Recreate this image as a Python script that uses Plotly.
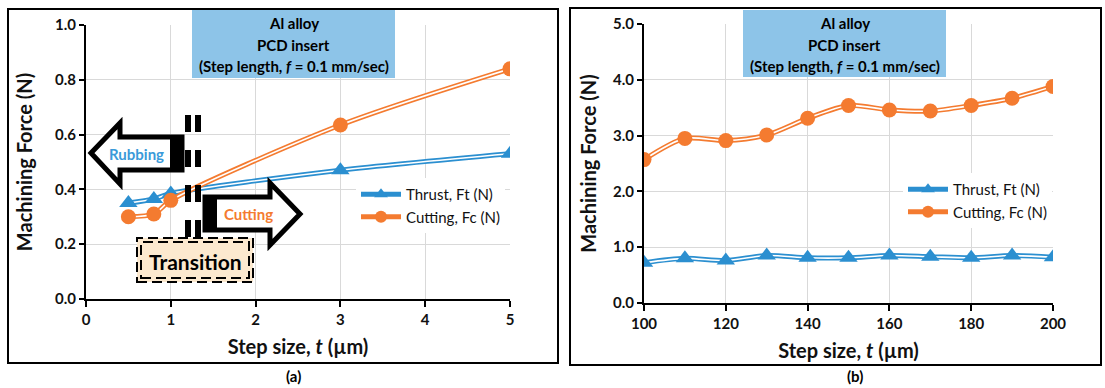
import plotly.graph_objects as go

# ---------------- data ----------------
step_a = [0.5, 0.8, 1.0, 3.0, 5.0]
thrust_a = [0.35, 0.365, 0.385, 0.47, 0.53]
cutting_a = [0.30, 0.31, 0.36, 0.635, 0.84]

step_b = [100, 110, 120, 130, 140, 150, 160, 170, 180, 190, 200]
thrust_b = [0.72, 0.80, 0.76, 0.85, 0.81, 0.81, 0.85, 0.83, 0.81, 0.85, 0.82]
cutting_b = [2.57, 2.95, 2.91, 3.01, 3.31, 3.54, 3.46, 3.44, 3.54, 3.67, 3.88]

W, H = 1105, 388
BLUE = "#2B8FD0"
ORANGE = "#F47B30"
FONT = "Lato"


def px(x):
    return x / W


def py(y):
    return 1 - y / H


fig = go.Figure()


def add_series(x, y, color, symbol, name, xa, ya, legend):
    fig.add_trace(go.Scatter(x=x, y=y, mode="lines", line=dict(color=color, width=5, shape="spline", smoothing=0.8),
                             name=name, xaxis=xa, yaxis=ya, legend=legend, showlegend=False))
    fig.add_trace(go.Scatter(x=x, y=y, mode="lines", line=dict(color="white", width=1.6, shape="spline", smoothing=0.8),
                             xaxis=xa, yaxis=ya, showlegend=False, hoverinfo="skip"))
    fig.add_trace(go.Scatter(x=x, y=y, mode="markers",
                             marker=dict(symbol=symbol, size=15 if symbol == "circle" else 16, color=color),
                             name=name, xaxis=xa, yaxis=ya, legend=legend, showlegend=False))
    # legend proxy
    fig.add_trace(go.Scatter(x=[None], y=[None], mode="lines+markers",
                             line=dict(color=color, width=5),
                             marker=dict(symbol=symbol, size=12, color=color),
                             name=name, xaxis=xa, yaxis=ya, legend=legend, showlegend=True))


add_series(step_a, thrust_a, BLUE, "triangle-up", "Thrust, Ft (N)", "x", "y", "legend")
add_series(step_a, cutting_a, ORANGE, "circle", "Cutting, Fc (N)", "x", "y", "legend")
add_series(step_b, thrust_b, BLUE, "triangle-up", "Thrust, Ft (N)", "x2", "y2", "legend2")
add_series(step_b, cutting_b, ORANGE, "circle", "Cutting, Fc (N)", "x2", "y2", "legend2")

tickfont = dict(family=FONT, size=15, color="#111111", weight="bold")
titlefont = dict(family=FONT, size=20, color="#111111", weight="bold")
grid = "#D9D9D9"


def xaxis_cfg(**kw):
    d = dict(showgrid=True, gridcolor=grid, gridwidth=1, showline=True, linecolor="black", linewidth=2,
             ticks="outside", ticklen=6, tickcolor="black", tickwidth=2, tickfont=tickfont, automargin=False,
             zeroline=False, title=dict(text="Step size, <i>t</i> (µm)", font=titlefont, standoff=13))
    d.update(kw)
    return d


def yaxis_cfg(standoff, **kw):
    d = dict(showgrid=True, gridcolor=grid, gridwidth=1, showline=True, linecolor="black", linewidth=2,
             ticks="outside", ticklen=5, tickcolor="black", tickwidth=2, tickfont=tickfont, automargin=False,
             zeroline=False, title=dict(text="Machining Force (N)", font=titlefont, standoff=standoff))
    d.update(kw)
    return d


fig.update_layout(
    width=W, height=H, margin=dict(l=0, r=0, t=0, b=0, autoexpand=False),
    paper_bgcolor="white", plot_bgcolor="white",
    xaxis=xaxis_cfg(domain=[px(86), px(510)], range=[0, 5], dtick=1, anchor="y"),
    yaxis=yaxis_cfg(17, domain=[py(299), py(25)], range=[0, 1.0], dtick=0.2, tickformat=".1f", anchor="x"),
    xaxis2=xaxis_cfg(domain=[px(644), px(1053)], range=[100, 200], dtick=20, anchor="y2"),
    yaxis2=yaxis_cfg(11, domain=[py(303), py(24)], range=[0, 5.0], dtick=1, tickformat=".1f", anchor="x2"),
    legend=dict(x=px(356), y=py(178), xanchor="left", yanchor="top", bgcolor="white",
                font=dict(family=FONT, size=15, color="#111111"), itemwidth=40, tracegroupgap=2),
    legend2=dict(x=px(903), y=py(173), xanchor="left", yanchor="top", bgcolor="white",
                 font=dict(family=FONT, size=15, color="#111111"), itemwidth=40, tracegroupgap=2),
    showlegend=True,
)

shapes = []
ann = []


def text(t, x, y, size, color="black", bold=True):
    f = dict(family=FONT, size=size, color=color)
    if bold:
        f["weight"] = "bold"
    ann.append(dict(text=t, x=px(x), y=py(y), xref="paper", yref="paper", showarrow=False,
                    xanchor="center", yanchor="middle", font=f))


# panel frames
shapes.append(dict(type="rect", xref="paper", yref="paper", x0=px(8), x1=px(558), y0=py(363), y1=py(9),
                   line=dict(color="black", width=2)))
shapes.append(dict(type="rect", xref="paper", yref="paper", x0=px(570), x1=px(1101), y0=py(365), y1=py(8),
                   line=dict(color="black", width=2)))

# title boxes
for (x0, x1, y1) in [(192, 395, 78), (743, 946, 77)]:
    shapes.append(dict(type="rect", xref="paper", yref="paper", x0=px(x0), x1=px(x1), y0=py(y1), y1=py(10),
                       fillcolor="#8DC4E8", line=dict(width=0), layer="above"))
    cx = (x0 + x1) / 2
    for i, t in enumerate(["Al alloy", "PCD insert", "(Step length, <i>f</i> = 0.1 mm/sec)"]):
        text(t, cx, 23 + 21.5 * i, 15)

# Rubbing arrow (pointing left)
rub = [(91, 153), (120, 123), (120, 137), (182, 137), (182, 170), (120, 170), (120, 184)]
path = "M " + " L ".join(f"{px(a)},{py(b)}" for a, b in rub) + " Z"
shapes.append(dict(type="path", xref="paper", yref="paper", path=path, fillcolor="white",
                   line=dict(color="black", width=5), layer="above"))
shapes.append(dict(type="rect", xref="paper", yref="paper", x0=px(170), x1=px(182), y0=py(170), y1=py(137),
                   fillcolor="black", line=dict(width=0), layer="above"))
text("Rubbing", 136, 154, 15, "#3A9AD9")

# Cutting arrow (pointing right)
cut = [(300, 214), (270, 183), (270, 197), (205, 197), (205, 230), (270, 230), (270, 245)]
path = "M " + " L ".join(f"{px(a)},{py(b)}" for a, b in cut) + " Z"
shapes.append(dict(type="path", xref="paper", yref="paper", path=path, fillcolor="white",
                   line=dict(color="black", width=5), layer="above"))
shapes.append(dict(type="rect", xref="paper", yref="paper", x0=px(205), x1=px(217), y0=py(230), y1=py(197),
                   fillcolor="black", line=dict(width=0), layer="above"))
text("Cutting", 248, 214, 15, ORANGE)

# dashed transition bars
for xx in (188, 198):
    shapes.append(dict(type="line", xref="paper", yref="paper", x0=px(xx), x1=px(xx), y0=py(115), y1=py(238),
                       line=dict(color="black", width=6, dash="17px,18px"), layer="above"))

# Transition box
shapes.append(dict(type="rect", xref="paper", yref="paper", x0=px(137), x1=px(253), y0=py(282), y1=py(238),
                   fillcolor="#FCE9CF", line=dict(color="black", width=2, dash="10px,5px"), layer="above"))
shapes.append(dict(type="rect", xref="paper", yref="paper", x0=px(141), x1=px(249), y0=py(278), y1=py(242),
                   line=dict(color="black", width=2, dash="10px,5px"), layer="above"))
text("Transition", 195, 261, 21)

# panel labels
text("(a)", 293, 376, 15)
text("(b)", 855, 376, 15)

fig.update_layout(shapes=shapes, annotations=ann)
fig.write_html("out.html", config={"displayModeBar": False},
               post_script="document.body.style.margin='0px';")
